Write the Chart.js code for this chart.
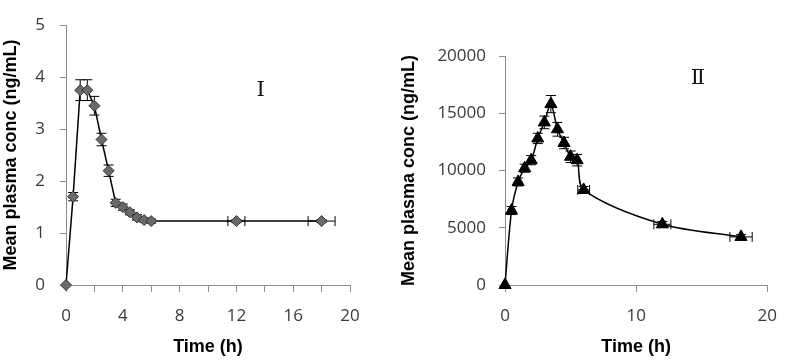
<!DOCTYPE html>
<html>
<head>
<meta charset="utf-8">
<script src="https://cdn.jsdelivr.net/npm/chart.js@4/dist/chart.umd.min.js"></script>
<style>
  html, body { margin: 0; padding: 0; background: #fff; }
  #wrap { position: relative; width: 791px; height: 362px; }
  .panel { position: absolute; top: 0; height: 362px; }
  #p1 { left: 0; width: 390px; }
  #p2 { left: 390px; width: 401px; }
</style>
</head>
<body>
<div id="wrap">
  <div class="panel" id="p1"><canvas id="c1"></canvas></div>
  <div class="panel" id="p2"><canvas id="c2"></canvas></div>
</div>
<script>
"use strict";

// panel I  (diamonds)
const timeA    = [0, 0.5, 1, 1.5, 2, 2.5, 3, 3.5, 4, 4.5, 5, 5.5, 6, 12, 18];
const concA    = [0, 1.7, 3.75, 3.75, 3.45, 2.8, 2.2, 1.58, 1.5, 1.4, 1.3, 1.25, 1.23, 1.23, 1.23];
const concErrA = [0, 0.08, 0.2, 0.2, 0.18, 0.12, 0.11, 0.07, 0.06, 0.05, 0.05, 0.04, 0.04, 0.03, 0.03];
const timeErrA = [0, 0, 0, 0, 0, 0, 0, 0, 0, 0, 0, 0, 0, 0.6, 0.95];

// panel II  (triangles)
const timeB    = [0, 0.5, 1, 1.5, 2, 2.5, 3, 3.5, 4, 4.5, 5, 5.5, 6, 12, 18];
const concB    = [0, 6500, 9000, 10200, 10900, 12800, 14200, 15800, 13600, 12400, 11200, 10900, 8300, 5300, 4200];
const concErrB = [0, 350, 350, 350, 400, 450, 550, 750, 600, 500, 500, 500, 300, 250, 200];
const timeErrB = [0, 0, 0, 0, 0, 0, 0, 0, 0, 0, 0, 0, 0.45, 0.65, 0.85];

const xTitle = 'Time (h)';
const yTitle = 'Mean plasma conc (ng/mL)';
const panelLabels = ['Ⅰ', 'Ⅱ'];
// where the roman numeral sits, in data units
const labelPosA = {x: 13.7, y: 3.75};
const labelPosB = {x: 14.7, y: 18000};

const AXIS_GREY = '#8c8c8c';
const TICK_TEXT = '#3a3a3a';

const errorBars = {
    id: 'errorBars',
    beforeDatasetsDraw(chart, args, opts) {
        const ctx = chart.ctx;
        const xs = chart.scales.x, ys = chart.scales.y;
        const pts = chart.data.datasets[0].data;
        ctx.save();
        ctx.strokeStyle = '#000';
        ctx.lineWidth = 1;
        pts.forEach((p, i) => {
            const px = xs.getPixelForValue(p.x);
            const py = ys.getPixelForValue(p.y);
            const ey = opts.yErr[i], ex = opts.xErr[i];
            const cap = 5;
            ctx.beginPath();
            if (ey) {
                const t = ys.getPixelForValue(p.y + ey), b = ys.getPixelForValue(p.y - ey);
                ctx.moveTo(px, t); ctx.lineTo(px, b);
                ctx.moveTo(px - cap, t); ctx.lineTo(px + cap, t);
                ctx.moveTo(px - cap, b); ctx.lineTo(px + cap, b);
            }
            if (ex) {
                const l = xs.getPixelForValue(p.x - ex), r = xs.getPixelForValue(p.x + ex);
                ctx.moveTo(l, py); ctx.lineTo(r, py);
                ctx.moveTo(l, py - cap); ctx.lineTo(l, py + cap);
                ctx.moveTo(r, py - cap); ctx.lineTo(r, py + cap);
            }
            ctx.stroke();
        });
        ctx.restore();
    }
};

const panelLabel = {
    id: 'panelLabel',
    afterDraw(chart, args, opts) {
        const ctx = chart.ctx;
        ctx.save();
        ctx.fillStyle = '#111';
        ctx.font = '21px "DejaVu Serif"';
        ctx.textAlign = 'center';
        ctx.textBaseline = 'middle';
        ctx.fillText(opts.text, chart.scales.x.getPixelForValue(opts.x), chart.scales.y.getPixelForValue(opts.y));
        ctx.restore();
    }
};

function makeChart(id, cfg) {
    const points = cfg.xs.map((v, i) => ({x: v, y: cfg.ys[i]}));
    return new Chart(document.getElementById(id), {
        type: 'scatter',
        data: {
            datasets: [{
                data: points,
                showLine: true,
                borderColor: '#000',
                borderWidth: 1.5,
                tension: cfg.tension,
                pointStyle: cfg.marker,
                pointRadius: cfg.radius,
                pointBackgroundColor: cfg.fill,
                pointBorderColor: cfg.edge,
                pointBorderWidth: 1,
                clip: false
            }]
        },
        options: {
            responsive: true,
            maintainAspectRatio: false,
            animation: false,
            layout: { padding: cfg.padding },
            plugins: {
                legend: { display: false },
                tooltip: { enabled: false },
                errorBars: { yErr: cfg.yErr, xErr: cfg.xErr },
                panelLabel: cfg.label
            },
            scales: {
                x: {
                    type: 'linear',
                    min: 0, max: 20,
                    afterFit: s => { s.height = cfg.xHeight; },
                    grid: { drawOnChartArea: false, tickLength: 7, color: AXIS_GREY },
                    border: { color: AXIS_GREY },
                    ticks: {
                        stepSize: cfg.xStep,
                        autoSkip: false,
                        maxRotation: 0,
                        padding: 14,
                        color: TICK_TEXT,
                        font: { family: '"Open Sans"', size: 17 },
                        callback: v => (v % cfg.xLabelEvery === 0 ? String(v) : '')
                    },
                    title: {
                        display: true, text: xTitle, color: '#000',
                        padding: { top: 0, bottom: 4 },
                        font: { family: '"Liberation Sans"', size: 18, weight: 'bold' }
                    }
                },
                y: {
                    min: 0, max: cfg.yMax,
                    afterFit: s => { s.width = cfg.yWidth; },
                    grid: { drawOnChartArea: false, tickLength: 6, color: AXIS_GREY },
                    border: { color: AXIS_GREY },
                    ticks: {
                        stepSize: cfg.yStep,
                        padding: cfg.yPad,
                        color: TICK_TEXT,
                        font: { family: '"Open Sans"', size: 17 },
                        callback: v => String(v)
                    },
                    title: {
                        display: true, text: yTitle, color: '#000',
                        padding: { top: cfg.yTitlePad, bottom: 0 },
                        font: { family: '"Liberation Sans"', size: 18, weight: 'bold' }
                    }
                }
            }
        },
        plugins: [errorBars, panelLabel]
    });
}

makeChart('c1', {
    xs: timeA, ys: concA, yErr: concErrA, xErr: timeErrA,
    marker: 'rectRot', radius: 5.5, fill: '#6a6a6a', edge: '#333',
    tension: 0,
    padding: { top: 10, right: 40, left: 0, bottom: 0 },
    xHeight: 77, yWidth: 66, yMax: 5, yStep: 1, yPad: 15, yTitlePad: 0,
    xStep: 2, xLabelEvery: 4,
    label: { text: panelLabels[0], x: labelPosA.x, y: labelPosA.y }
});

makeChart('c2', {
    xs: timeB, ys: concB, yErr: concErrB, xErr: timeErrB,
    marker: 'triangle', radius: 7, fill: '#000', edge: '#000',
    tension: 0.3,
    padding: { top: 56, right: 17, left: 0, bottom: 0 },
    xHeight: 77, yWidth: 115, yMax: 20000, yStep: 5000, yPad: 13, yTitlePad: 8,
    xStep: 10, xLabelEvery: 10,
    label: { text: panelLabels[1], x: labelPosB.x, y: labelPosB.y }
});
</script>
</body>
</html>
